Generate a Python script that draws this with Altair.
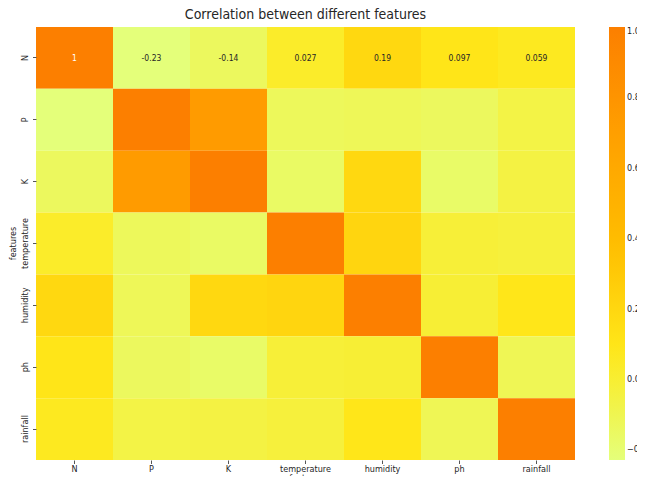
import altair as alt
import pandas as pd

features = ["N", "P", "K", "temperature", "humidity", "ph", "rainfall"]
corr = [
    [1.0, -0.23, -0.14, 0.027, 0.19, 0.097, 0.059],
    [-0.23, 1.0, 0.74, -0.13, -0.12, -0.14, -0.064],
    [-0.14, 0.74, 1.0, -0.16, 0.19, -0.17, -0.053],
    [0.027, -0.13, -0.16, 1.0, 0.21, -0.018, -0.03],
    [0.19, -0.12, 0.19, 0.21, 1.0, -0.0085, 0.094],
    [0.097, -0.14, -0.17, -0.018, -0.0085, 1.0, -0.11],
    [0.059, -0.064, -0.053, -0.03, 0.094, -0.11, 1.0],
]
legend_ticks = [-0.2, 0.0, 0.2, 0.4, 0.6, 0.8, 1.0]

records = []
for i, r in enumerate(features):
    for j, c in enumerate(features):
        v = corr[i][j]
        records.append({"row": r, "col": c, "value": v,
                        "label": format(v, ".2g") if i == 0 else ""})
df = pd.DataFrame(records)

vmin = min(min(r) for r in corr)
vmax = max(max(r) for r in corr)
wistia = ["#e4ff7a", "#ffe81a", "#ffbd00", "#ffa000", "#fc7f00"]
stops = [vmin + (vmax - vmin) * k / 4 for k in range(5)]

FONT = "DejaVu Sans Condensed, Liberation Sans Narrow, DejaVu Sans"

x_enc = alt.X("col:N", sort=features, title="features",
              scale=alt.Scale(paddingInner=0, paddingOuter=0),
              axis=alt.Axis(labelAngle=0, domain=False, tickSize=3.5, tickColor="#555",
                            labelFontSize=9, labelColor="#262626", labelPadding=1,
                            titleFontSize=9, titleFontWeight="normal", titleColor="#262626",
                            titleBaseline="top", titleY=13.5,
                            labelFont=FONT, titleFont=FONT))
y_enc = alt.Y("row:N", sort=features, title="features",
              scale=alt.Scale(paddingInner=0, paddingOuter=0),
              axis=alt.Axis(labelAngle=270, labelAlign="center", labelBaseline="bottom",
                            domain=False, tickSize=3.5, tickColor="#555",
                            labelFontSize=9, labelColor="#262626", labelPadding=3,
                            titleFontSize=9, titleFontWeight="normal", titleColor="#262626",
                            titleX=-19, titleY=216, labelFont=FONT, titleFont=FONT))

heat = alt.Chart(df).mark_rect(strokeWidth=0).encode(
    x=x_enc,
    y=y_enc,
    color=alt.Color("value:Q",
                    scale=alt.Scale(domain=stops, range=wistia, interpolate="rgb"),
                    legend=alt.Legend(title=None, gradientLength=433, gradientThickness=16,
                                      offset=34, padding=0, values=legend_ticks, format=".1f",
                                      labelFontSize=9, labelColor="#262626", labelFont=FONT,
                                      labelOffset=2, labelOverlap=False,
                                      gradientStrokeWidth=0)),
)

text = alt.Chart(df).mark_text(fontSize=8.5, font=FONT).encode(
    x=alt.X("col:N", sort=features),
    y=alt.Y("row:N", sort=features),
    text="label:N",
    color=alt.condition(alt.datum.value > 0.7, alt.value("#ffffff"), alt.value("#262626")),
)

chart = alt.layer(heat, text).properties(
    width=539, height=433,
    title=alt.Title("Correlation between different features", fontSize=14,
                    fontWeight="normal", color="#262626", font=FONT, offset=5),
    autosize=alt.AutoSizeParams(type="none"),
    padding={"left": 28, "top": 19, "right": 62, "bottom": 16},
).configure_view(stroke=None)

chart.save("out.html", embed_options={"renderer": "svg", "actions": False})
